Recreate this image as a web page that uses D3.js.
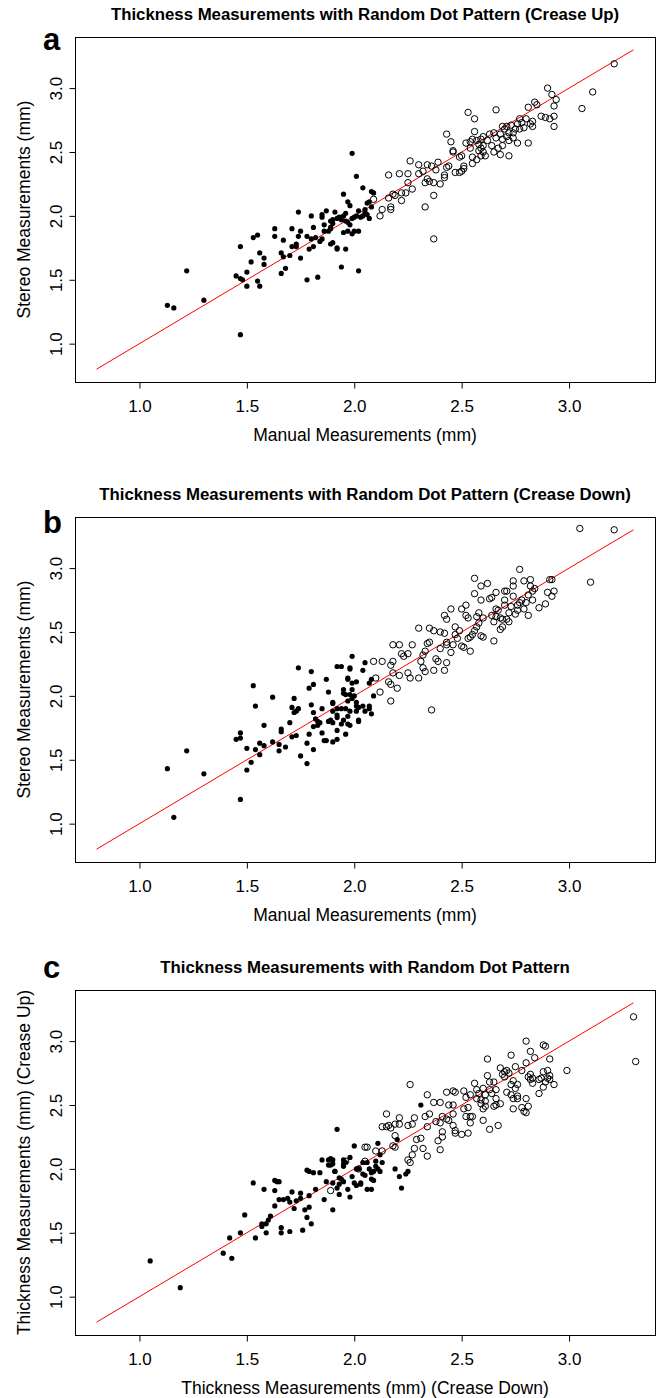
<!DOCTYPE html>
<html>
<head>
<meta charset="utf-8">
<script src="https://d3js.org/d3.v7.min.js"></script>
<style>
  body { margin: 0; background: #fff; }
  svg text { font-family: "Liberation Sans", Arial, Helvetica, sans-serif; fill: #000; }
</style>
</head>
<body>
<svg id="chart" width="661" height="1398"></svg>
<script>
// shared axes
const xTicks = [1.0, 1.5, 2.0, 2.5, 3.0];
const yTicks = [1.0, 1.5, 2.0, 2.5, 3.0];
const axisRange = [0.7, 3.4];
const identityLine = [0.8, 3.3];   // y = x reference line

// panel a: crease up, manual vs stereo
const aFilled = [[1.13,1.30],[1.16,1.28],[1.22,1.57],[1.30,1.34],[1.47,1.07],[1.45,1.53],[1.47,1.76],[1.47,1.51],[1.48,1.50],[1.50,1.56],[1.50,1.45],[1.52,1.64],[1.53,1.83],[1.55,1.85],[1.55,1.49],[1.56,1.45],[1.56,1.71],[1.58,1.67],[1.58,1.62],[1.63,1.90],[1.63,1.84],[1.66,1.71],[1.66,1.55],[1.67,1.81],[1.68,1.59],[1.67,1.68],[1.70,1.69],[1.71,1.90],[1.71,1.76],[1.73,1.78],[1.73,1.76],[1.74,2.03],[1.74,1.84],[1.75,1.88],[1.75,1.67],[1.78,1.84],[1.78,1.50],[1.79,1.74],[1.80,2.00],[1.80,1.82],[1.81,1.76],[1.81,1.91],[1.82,1.83],[1.83,1.52],[1.85,1.99],[1.85,2.01],[1.85,1.82],[1.86,1.88],[1.87,2.04],[1.88,1.88],[1.89,1.96],[1.89,1.78],[1.99,2.49],[2.01,2.31],[2.04,2.22],[1.95,2.17],[1.97,2.11],[1.98,2.08],[1.91,2.03],[1.90,1.97],[1.92,1.98],[1.94,1.97],[1.95,2.00],[1.96,1.96],[1.97,1.95],[1.99,1.98],[2.00,1.99],[2.01,2.00],[2.03,1.99],[2.04,2.00],[2.05,2.03],[2.06,2.01],[2.07,1.98],[2.08,2.19],[2.09,2.18],[2.07,2.11],[2.08,2.07],[1.89,1.91],[1.90,1.94],[1.90,1.79],[1.92,1.75],[1.92,1.74],[1.96,1.74],[1.95,1.87],[1.97,1.88],[1.99,1.86],[2.00,1.88],[2.02,1.88],[1.94,1.60],[2.02,1.57],[1.89,1.90],[1.93,1.99],[1.96,2.02],[2.02,2.04],[1.98,1.93],[2.05,2.05],[1.86,1.93],[1.84,1.80],[2.06,2.10]];
const aOpen = [[2.09,2.13],[2.13,2.05],[2.12,2.00],[2.17,2.07],[2.17,2.05],[2.16,2.14],[2.16,2.32],[2.18,2.17],[2.19,2.16],[2.21,2.33],[2.22,2.12],[2.22,2.18],[2.24,2.18],[2.25,2.26],[2.26,2.43],[2.25,2.33],[2.27,2.21],[2.30,2.40],[2.30,2.33],[2.32,2.35],[2.33,2.07],[2.33,2.26],[2.34,2.40],[2.34,2.29],[2.35,2.27],[2.36,2.39],[2.37,2.16],[2.37,1.82],[2.37,2.26],[2.38,2.36],[2.39,2.42],[2.40,2.25],[2.42,2.30],[2.42,2.32],[2.43,2.64],[2.43,2.38],[2.44,2.39],[2.45,2.58],[2.46,2.51],[2.46,2.50],[2.47,2.34],[2.49,2.46],[2.49,2.34],[2.50,2.35],[2.51,2.37],[2.51,2.39],[2.50,2.47],[2.52,2.57],[2.53,2.81],[2.54,2.58],[2.54,2.53],[2.55,2.46],[2.55,2.60],[2.55,2.41],[2.56,2.76],[2.56,2.66],[2.57,2.44],[2.57,2.59],[2.58,2.56],[2.58,2.51],[2.59,2.60],[2.59,2.47],[2.59,2.53],[2.60,2.62],[2.60,2.50],[2.60,2.55],[2.61,2.47],[2.62,2.59],[2.63,2.64],[2.64,2.55],[2.65,2.50],[2.65,2.65],[2.66,2.61],[2.66,2.83],[2.67,2.53],[2.68,2.64],[2.68,2.48],[2.69,2.70],[2.69,2.60],[2.69,2.55],[2.70,2.68],[2.71,2.62],[2.71,2.70],[2.72,2.47],[2.72,2.65],[2.72,2.59],[2.73,2.71],[2.74,2.65],[2.74,2.61],[2.75,2.68],[2.76,2.72],[2.76,2.57],[2.77,2.68],[2.77,2.76],[2.78,2.73],[2.79,2.69],[2.80,2.76],[2.81,2.85],[2.81,2.57],[2.82,2.72],[2.83,2.74],[2.83,2.70],[2.84,2.89],[2.85,2.87],[2.87,2.78],[2.89,2.77],[2.90,3.00],[2.91,2.76],[2.92,2.95],[2.93,2.86],[2.93,2.78],[2.93,2.70],[2.94,2.91],[3.06,2.84],[3.11,2.97],[3.21,3.19]];

// panel b: crease down, manual vs stereo
const bFilled = [[1.13,1.43],[1.16,1.05],[1.22,1.57],[1.30,1.39],[1.47,1.19],[1.45,1.66],[1.47,1.71],[1.47,1.67],[1.50,1.59],[1.50,1.42],[1.52,1.48],[1.53,2.08],[1.54,1.92],[1.54,1.58],[1.56,1.54],[1.56,1.63],[1.58,1.61],[1.58,1.77],[1.62,1.64],[1.62,1.99],[1.65,1.57],[1.65,1.62],[1.66,1.74],[1.66,1.72],[1.68,1.60],[1.70,1.79],[1.71,1.91],[1.71,1.68],[1.72,1.98],[1.72,1.87],[1.73,1.88],[1.74,1.90],[1.74,2.22],[1.73,1.69],[1.75,1.53],[1.78,1.63],[1.78,1.47],[1.79,1.70],[1.79,2.06],[1.80,2.19],[1.80,1.93],[1.81,1.58],[1.81,2.09],[1.81,1.87],[1.81,1.76],[1.82,1.82],[1.83,1.80],[1.83,1.77],[1.84,1.79],[1.85,1.90],[1.85,1.71],[1.86,1.65],[1.87,2.13],[1.87,1.65],[1.88,2.03],[1.89,1.81],[1.88,1.80],[1.90,1.94],[1.90,1.88],[1.90,1.64],[1.92,2.23],[1.92,1.66],[1.92,1.85],[1.92,1.73],[1.94,1.78],[1.94,2.23],[1.95,2.05],[1.95,2.02],[1.96,1.70],[1.96,2.01],[1.97,2.14],[1.97,1.96],[1.97,1.84],[1.97,1.78],[1.98,2.22],[1.99,2.31],[1.99,2.10],[1.99,2.05],[2.00,2.00],[2.01,2.11],[2.01,1.88],[2.02,1.81],[2.02,1.91],[1.98,2.21],[2.05,2.26],[2.04,2.20],[1.97,2.13],[2.07,2.10],[2.08,2.13],[2.09,2.00],[1.98,2.01],[1.99,1.98],[2.01,1.95],[2.01,1.92],[1.90,1.95],[1.92,1.90],[1.94,1.90],[1.96,1.90],[1.98,1.88],[2.05,1.88],[2.07,1.90],[2.08,1.86],[1.92,1.83],[1.95,1.81],[2.02,1.80],[1.90,1.79],[1.98,1.77],[2.04,1.92],[2.07,1.92]];
const bOpen = [[2.09,2.27],[2.13,2.27],[2.10,2.14],[2.12,2.03],[2.17,1.96],[2.16,2.11],[2.17,2.09],[2.17,2.24],[2.18,2.27],[2.18,2.18],[2.18,2.40],[2.20,2.06],[2.21,2.16],[2.21,2.40],[2.22,2.33],[2.23,2.31],[2.25,2.33],[2.25,2.18],[2.26,2.14],[2.27,2.40],[2.30,2.53],[2.30,2.14],[2.31,2.27],[2.32,2.22],[2.32,2.32],[2.33,2.19],[2.33,2.35],[2.34,2.41],[2.35,2.42],[2.35,2.53],[2.36,1.89],[2.37,2.20],[2.37,2.51],[2.38,2.29],[2.39,2.27],[2.40,2.37],[2.40,2.50],[2.42,2.49],[2.42,2.63],[2.42,2.20],[2.43,2.26],[2.43,2.40],[2.43,2.42],[2.43,2.60],[2.45,2.34],[2.45,2.68],[2.46,2.40],[2.47,2.54],[2.47,2.48],[2.48,2.45],[2.49,2.51],[2.50,2.68],[2.50,2.39],[2.51,2.38],[2.52,2.63],[2.52,2.71],[2.53,2.45],[2.53,2.61],[2.54,2.35],[2.54,2.46],[2.55,2.48],[2.56,2.92],[2.56,2.80],[2.56,2.51],[2.57,2.62],[2.57,2.54],[2.58,2.57],[2.58,2.65],[2.59,2.75],[2.59,2.86],[2.59,2.47],[2.60,2.46],[2.60,2.61],[2.62,2.88],[2.63,2.76],[2.64,2.77],[2.64,2.63],[2.65,2.58],[2.65,2.43],[2.66,2.68],[2.66,2.81],[2.66,2.62],[2.67,2.67],[2.68,2.52],[2.68,2.61],[2.69,2.60],[2.69,2.54],[2.70,2.82],[2.70,2.71],[2.70,2.75],[2.71,2.82],[2.71,2.60],[2.72,2.65],[2.72,2.58],[2.73,2.70],[2.74,2.90],[2.74,2.86],[2.74,2.78],[2.75,2.64],[2.76,2.67],[2.76,2.71],[2.77,2.99],[2.77,2.73],[2.78,2.75],[2.79,2.90],[2.79,2.68],[2.80,2.73],[2.81,2.63],[2.81,2.79],[2.82,2.91],[2.82,2.86],[2.83,2.82],[2.83,2.75],[2.84,2.84],[2.86,2.69],[2.89,2.72],[2.90,2.81],[2.91,2.91],[2.92,2.91],[2.92,2.78],[2.93,2.82],[3.05,3.31],[3.10,2.89],[3.21,3.30]];

// panel c: crease down vs crease up
const cFilled = [[1.05,1.28],[1.19,1.07],[1.39,1.34],[1.43,1.30],[1.42,1.46],[1.47,1.50],[1.49,1.64],[1.54,1.46],[1.53,1.89],[1.58,1.84],[1.57,1.57],[1.57,1.55],[1.59,1.50],[1.59,1.57],[1.60,1.60],[1.61,1.63],[1.63,1.71],[1.63,1.83],[1.63,1.91],[1.64,1.90],[1.65,1.90],[1.65,1.76],[1.66,1.54],[1.66,1.50],[1.67,1.76],[1.69,1.77],[1.70,1.51],[1.70,1.74],[1.71,1.82],[1.72,1.69],[1.73,1.75],[1.75,1.81],[1.75,1.77],[1.76,1.52],[1.77,1.68],[1.78,1.99],[1.78,1.62],[1.79,1.70],[1.79,1.98],[1.79,1.79],[1.80,1.57],[1.81,1.97],[1.82,1.84],[1.84,1.97],[1.85,2.07],[1.86,1.76],[1.87,1.90],[1.88,2.07],[1.88,2.03],[1.89,2.08],[1.90,1.68],[1.90,2.04],[1.91,1.98],[1.92,2.31],[1.92,1.85],[1.93,1.88],[1.93,1.80],[1.94,1.92],[1.95,2.04],[1.95,2.07],[1.98,2.09],[1.98,1.78],[1.99,1.94],[2.00,2.18],[2.01,1.87],[2.02,2.00],[2.03,1.89],[2.04,2.05],[2.05,1.95],[2.06,1.84],[2.07,2.00],[2.08,1.84],[2.08,1.92],[2.09,1.98],[2.10,2.02],[2.10,2.06],[2.11,2.20],[2.11,2.00],[2.12,2.11],[2.31,2.50],[2.20,2.23],[1.90,2.07],[1.89,2.03],[1.96,2.05],[1.91,1.98],[1.95,2.02],[2.01,2.00],[2.04,1.96],[2.06,2.05],[2.08,1.97],[2.12,1.98],[2.13,2.05],[2.09,1.91],[2.03,1.88],[2.00,1.89],[2.19,2.00],[2.21,1.94],[2.22,1.85],[2.25,1.98],[2.24,1.96],[1.93,1.93],[1.90,1.89],[1.97,1.84],[1.95,1.90]];
const cOpen = [[1.89,1.83],[1.96,2.06],[2.02,2.00],[2.05,2.17],[2.05,2.06],[2.10,2.14],[2.06,2.17],[2.13,2.14],[2.15,2.43],[2.13,2.33],[2.15,2.33],[2.16,2.34],[2.17,2.32],[2.19,2.35],[2.21,2.40],[2.21,2.35],[2.18,2.18],[2.19,2.17],[2.19,2.26],[2.25,2.07],[2.26,2.66],[2.25,2.34],[2.27,2.35],[2.28,2.40],[2.26,2.05],[2.27,2.11],[2.28,2.16],[2.29,2.23],[2.31,2.24],[2.32,2.16],[2.34,2.10],[2.33,2.41],[2.34,2.33],[2.35,2.43],[2.34,2.58],[2.37,2.52],[2.38,2.37],[2.40,2.52],[2.39,2.22],[2.40,2.15],[2.40,2.36],[2.41,2.25],[2.41,2.29],[2.41,2.41],[2.43,2.39],[2.43,2.60],[2.44,2.50],[2.44,2.38],[2.46,2.61],[2.46,2.50],[2.46,2.43],[2.46,2.34],[2.47,2.30],[2.47,2.28],[2.47,2.60],[2.50,2.27],[2.51,2.47],[2.51,2.61],[2.52,2.41],[2.52,2.56],[2.53,2.48],[2.53,2.28],[2.54,2.36],[2.54,2.58],[2.54,2.41],[2.55,2.41],[2.56,2.67],[2.57,2.62],[2.57,2.55],[2.58,2.59],[2.59,2.54],[2.59,2.51],[2.60,2.47],[2.60,2.38],[2.60,2.63],[2.61,2.58],[2.61,2.53],[2.61,2.49],[2.62,2.86],[2.62,2.73],[2.63,2.68],[2.63,2.62],[2.63,2.31],[2.64,2.59],[2.65,2.68],[2.65,2.49],[2.66,2.55],[2.66,2.50],[2.66,2.62],[2.67,2.34],[2.68,2.51],[2.68,2.79],[2.69,2.74],[2.70,2.76],[2.70,2.72],[2.71,2.60],[2.71,2.77],[2.72,2.75],[2.73,2.58],[2.73,2.66],[2.73,2.89],[2.74,2.55],[2.74,2.47],[2.74,2.69],[2.75,2.80],[2.75,2.63],[2.76,2.66],[2.76,2.57],[2.76,2.55],[2.78,2.77],[2.78,2.48],[2.79,2.45],[2.80,2.83],[2.80,2.55],[2.80,3.00],[2.80,2.44],[2.81,2.72],[2.81,2.49],[2.82,2.70],[2.82,2.92],[2.82,2.74],[2.83,2.71],[2.83,2.67],[2.84,2.87],[2.86,2.59],[2.86,2.70],[2.87,2.71],[2.88,2.76],[2.88,2.64],[2.88,2.97],[2.89,2.68],[2.89,2.96],[2.90,2.77],[2.90,2.71],[2.91,2.86],[2.91,2.73],[2.91,2.70],[2.93,2.66],[2.99,2.77],[3.30,3.19],[3.31,2.84]];

const panels = [
  { tag: "a", top: 37, tagY: 50,
    title: "Thickness Measurements with Random Dot Pattern (Crease Up)",
    xlab: "Manual Measurements (mm)", ylab: "Stereo Measurements (mm)",
    filled: aFilled, open: aOpen },
  { tag: "b", top: 517, tagY: 533,
    title: "Thickness Measurements with Random Dot Pattern (Crease Down)",
    xlab: "Manual Measurements (mm)", ylab: "Stereo Measurements (mm)",
    filled: bFilled, open: bOpen },
  { tag: "c", top: 990, tagY: 978,
    title: "Thickness Measurements with Random Dot Pattern",
    xlab: "Thickness Measurements (mm) (Crease Down)", ylab: "Thickness Measurements (mm) (Crease Up)",
    filled: cFilled, open: cOpen }
];

const left = 75, right = 655, boxH = 345;
const cx = (left + right) / 2;
const svg = d3.select("#chart");
const fmt = d3.format(".1f");

panels.forEach(p => {
  const bottom = p.top + boxH;
  const x = d3.scaleLinear().domain(axisRange).range([left, right]);
  const y = d3.scaleLinear().domain(axisRange).range([bottom, p.top]);
  const g = svg.append("g");

  // identity line
  g.append("path")
      .datum(identityLine)
      .attr("fill", "none")
      .attr("stroke", "#ff0000")
      .attr("stroke-width", 1)
      .attr("d", d3.line().x(d => x(d)).y(d => y(d)));

  g.append("g").selectAll("circle")
    .data(p.open)
    .join("circle")
      .attr("cx", d => x(d[0]))
      .attr("cy", d => y(d[1]))
      .attr("r", 3.2)
      .attr("fill", "none")
      .attr("stroke", "#000")
      .attr("stroke-width", 1);

  g.append("g").selectAll("circle")
    .data(p.filled)
    .join("circle")
      .attr("cx", d => x(d[0]))
      .attr("cy", d => y(d[1]))
      .attr("r", 2.6)
      .attr("fill", "#000");

  // box
  g.append("rect")
      .attr("x", left + 0.5).attr("y", p.top + 0.5)
      .attr("width", right - left).attr("height", boxH)
      .attr("fill", "none").attr("stroke", "#000").attr("stroke-width", 1);

  const xAxis = g.append("g")
      .attr("transform", `translate(0,${bottom + 0.5})`)
      .call(d3.axisBottom(x).tickValues(xTicks).tickFormat(fmt).tickSize(6).tickSizeOuter(0));
  xAxis.select(".domain").remove();
  xAxis.selectAll("text").attr("y", 29).attr("dy", null)
      .style("font-size", "17px").style("font-family", null);

  const yAxis = g.append("g")
      .attr("transform", `translate(${left + 0.5},0)`)
      .call(d3.axisLeft(y).tickValues(yTicks).tickFormat(fmt).tickSize(6).tickSizeOuter(0));
  yAxis.select(".domain").remove();
  yAxis.selectAll("text")
      .attr("transform", "rotate(-90)")
      .attr("text-anchor", "middle")
      .attr("x", 0).attr("y", -14).attr("dy", null)
      .style("font-size", "17px").style("font-family", null);
  svg.selectAll(".tick line").attr("stroke", "#000");

  g.append("text")
      .attr("x", cx).attr("y", p.top - 17.5)
      .attr("text-anchor", "middle")
      .style("font-size", "16.8px").style("font-weight", "bold")
      .text(p.title);

  g.append("text")
      .attr("x", 43).attr("y", p.tagY)
      .style("font-size", "31px").style("font-weight", "bold")
      .text(p.tag);

  g.append("text")
      .attr("x", cx).attr("y", bottom + 59)
      .attr("text-anchor", "middle")
      .style("font-size", "17.5px")
      .text(p.xlab);

  g.append("text")
      .attr("transform", `translate(30,${p.top + boxH / 2}) rotate(-90)`)
      .attr("text-anchor", "middle")
      .style("font-size", "17.5px")
      .text(p.ylab);
});
</script>
</body>
</html>
